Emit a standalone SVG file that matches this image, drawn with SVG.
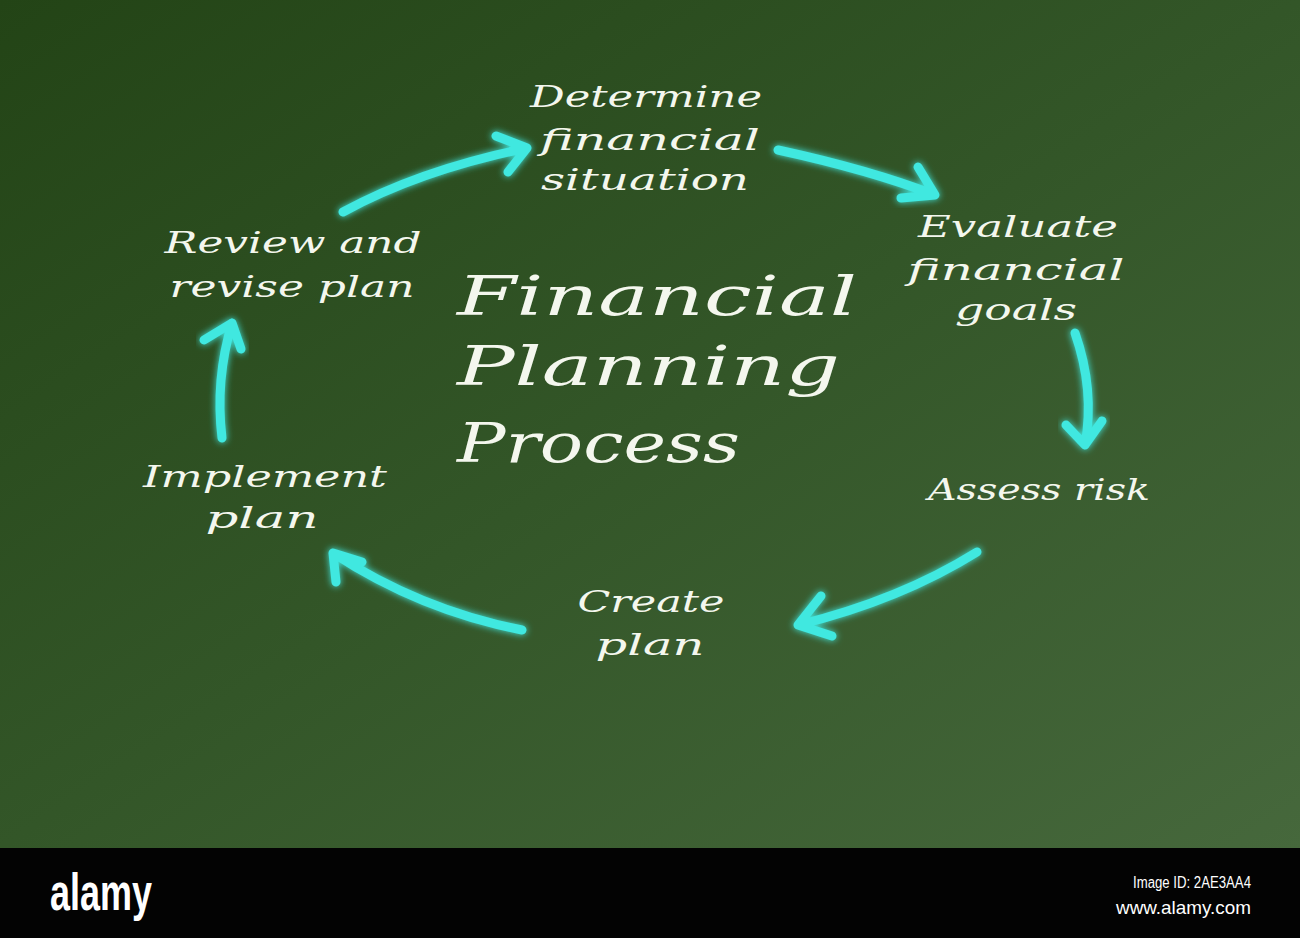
<svg xmlns="http://www.w3.org/2000/svg" width="1300" height="938" viewBox="0 0 1300 938">
<defs>
<linearGradient id="bg" x1="0" y1="0" x2="1" y2="1">
<stop offset="0" stop-color="#234416"/>
<stop offset="0.5" stop-color="#335628"/>
<stop offset="1" stop-color="#46683c"/>
</linearGradient>
<filter id="glow" x="-20%" y="-20%" width="140%" height="140%">
<feGaussianBlur in="SourceGraphic" stdDeviation="3.5" result="b"/>
<feMerge><feMergeNode in="b"/><feMergeNode in="SourceGraphic"/></feMerge>
</filter>
<style>
.lbl{font-family:"DejaVu Serif","Liberation Serif",serif;font-style:italic;fill:#f4f7ee;font-size:29px;text-anchor:middle}
.title{font-family:"DejaVu Serif","Liberation Serif",serif;font-style:italic;fill:#f4f7ee;font-size:54px}
.arr{fill:none;stroke:#3fe8e0;stroke-width:9;stroke-linecap:round;stroke-linejoin:round;filter:url(#glow)}
.wm{font-family:"Liberation Sans",Arial,sans-serif;fill:#ffffff}
</style>
</defs>
<rect x="0" y="0" width="1300" height="848" fill="url(#bg)"/>

<g id="connectors">
<path class="arr" d="M343,212 Q420,170 527,148 M496,136 L527,148 L508,172"/>
<path class="arr" d="M778,150 Q870,170 935,195 M918,167 L935,195 L901,198"/>
<path class="arr" d="M1075,333 Q1095,390 1085,445 M1066,425 L1085,445 L1102,421"/>
<path class="arr" d="M977,552 Q900,600 798,625 M821,596 L798,625 L832,636"/>
<path class="arr" d="M522,630 Q420,610 333,553 M336,582 L333,553 L362,562"/>
<path class="arr" d="M222,438 Q215,380 232,323 M204,340 L232,323 L241,349"/>
</g>

<g id="node-determine">
<text class="lbl" x="646" y="107" textLength="232" lengthAdjust="spacingAndGlyphs">Determine</text>
<text class="lbl" x="650" y="150" textLength="220" lengthAdjust="spacingAndGlyphs">financial</text>
<text class="lbl" x="645" y="190" textLength="208" lengthAdjust="spacingAndGlyphs">situation</text>
</g>
<g id="node-evaluate">
<text class="lbl" x="1018" y="237" textLength="200" lengthAdjust="spacingAndGlyphs">Evaluate</text>
<text class="lbl" x="1016" y="280" textLength="217" lengthAdjust="spacingAndGlyphs">financial</text>
<text class="lbl" x="1016" y="320" textLength="122" lengthAdjust="spacingAndGlyphs">goals</text>
</g>
<g id="node-assess">
<text class="lbl" x="1039" y="500" textLength="222" lengthAdjust="spacingAndGlyphs">Assess risk</text>
</g>
<g id="node-create">
<text class="lbl" x="651" y="612" textLength="147" lengthAdjust="spacingAndGlyphs">Create</text>
<text class="lbl" x="650" y="655" textLength="109" lengthAdjust="spacingAndGlyphs">plan</text>
</g>
<g id="node-implement">
<text class="lbl" x="265" y="487" textLength="244" lengthAdjust="spacingAndGlyphs">Implement</text>
<text class="lbl" x="262" y="528" textLength="113" lengthAdjust="spacingAndGlyphs">plan</text>
</g>
<g id="node-review">
<text class="lbl" x="293" y="253" textLength="257" lengthAdjust="spacingAndGlyphs">Review and</text>
<text class="lbl" x="292" y="297" textLength="245" lengthAdjust="spacingAndGlyphs">revise plan</text>
</g>
<g id="title">
<text class="title" x="457" y="315" textLength="400" lengthAdjust="spacingAndGlyphs">Financial</text>
<text class="title" x="457" y="385" textLength="383" lengthAdjust="spacingAndGlyphs">Planning</text>
<text class="title" x="457" y="462" textLength="283" lengthAdjust="spacingAndGlyphs">Process</text>
</g>

<g id="footer">
<rect x="0" y="848" width="1300" height="90" fill="#030303"/>
<text class="wm" x="50" y="910" font-size="52" font-weight="bold" textLength="102" lengthAdjust="spacingAndGlyphs">alamy</text>
<text class="wm" x="1251" y="888" font-size="16" text-anchor="end" textLength="118" lengthAdjust="spacingAndGlyphs">Image ID: 2AE3AA4</text>
<text class="wm" x="1251" y="914" font-size="19" text-anchor="end" textLength="135" lengthAdjust="spacingAndGlyphs">www.alamy.com</text>
</g>
</svg>
